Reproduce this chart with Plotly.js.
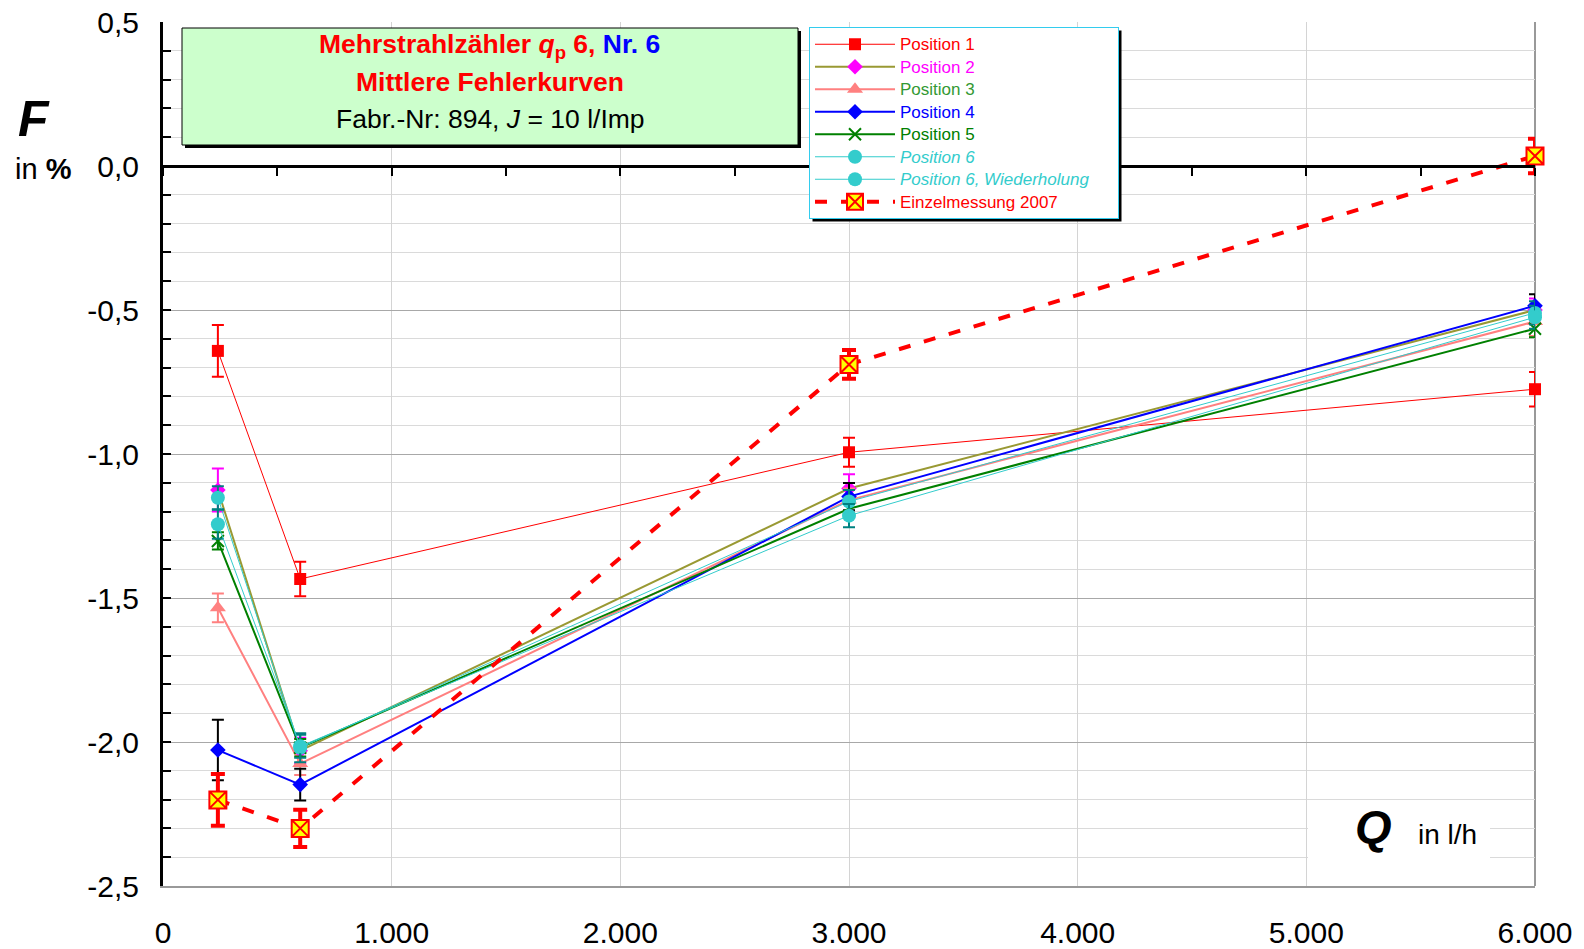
<!DOCTYPE html>
<html>
<head>
<meta charset="utf-8">
<script src="https://cdn.plot.ly/plotly-3.0.1.min.js"></script>
<style>html,body{margin:0;padding:0;background:#fff;}#chart{width:1584px;height:949px;}</style>
</head>
<body>
<div id="chart"></div>
<script>
// ---- data ----
const Q = [240, 600, 3000, 6000];
const pos1 = [-0.642, -1.434, -0.994, -0.775];
const pos1Err = [0.09, 0.06, 0.05, 0.06];
const pos2 = [-1.125, -2.03, -1.12, -0.50];
const pos2Err = [0.075, 0.045, 0.05, 0.04];
const pos3 = [-1.534, -2.075, -1.16, -0.54];
const pos3Err = [0.05, 0.04, 0.04, 0.05];
const pos4 = [-2.028, -2.148, -1.148, -0.485];
const pos4Err = [0.105, 0.055, 0.047, 0.04];
const pos5 = [-1.302, -2.02, -1.19, -0.565];
const pos5Err = [0.03, 0.03, 0.03, 0.03];
const pos6 = [-1.152, -2.02, -1.165, -0.51];
const pos6Err = [0.04, 0.05, 0.04, 0.04];
const pos6w = [-1.244, -2.015, -1.214, -0.525];
const pos6wErr = [0.05, 0.04, 0.04, 0.04];
const einzel = [-2.201, -2.30, -0.689, 0.035];
const einzelErr = [0.09, 0.065, 0.05, 0.06];

const seriesNames = ['Position 1', 'Position 2', 'Position 3', 'Position 4', 'Position 5',
                     'Position 6', 'Position 6, Wiederholung', 'Einzelmessung 2007'];

const xTickVals = [0, 1000, 2000, 3000, 4000, 5000, 6000];
const xTickText = ['0', '1.000', '2.000', '3.000', '4.000', '5.000', '6.000'];
const yTickVals = [-2.5, -2.0, -1.5, -1.0, -0.5, 0.0, 0.5];
const yTickText = ['-2,5', '-2,0', '-1,5', '-1,0', '-0,5', '0,0', '0,5'];

// ---- layout helpers (pixel -> paper) ----
const W = 1584, H = 949;
const M = {l: 163, r: 49, t: 22, b: 63};
const PW = W - M.l - M.r, PH = H - M.t - M.b;
const px = v => (v - M.l) / PW;
const py = v => (H - M.b - v) / PH;
const FONT = 'Liberation Sans, Arial, sans-serif';

function legendName(text, color, italic, pad) {
  let t = italic ? '<i>' + text + '</i>' : text;
  return '<span style="color:' + color + ';font-size:17px">' + t + (pad || '') + '</span>';
}

function series(name, y, color, lineColor, lineWidth, symbol, size, errColor, err, extra) {
  const t = {
    type: 'scatter', mode: 'lines+markers', name: name, x: Q, y: y, cliponaxis: false,
    line: {color: lineColor, width: lineWidth},
    marker: {symbol: symbol, size: size, color: color, line: {width: 0}},
    error_y: {type: 'data', array: err, color: errColor, thickness: 2, width: 6},
    hoverinfo: 'x+y'
  };
  if (extra) extra(t);
  return t;
}

const traces = [
  series(legendName(seriesNames[0], '#ff0000'), pos1, '#ff0000', '#ff0000', 1, 'square', 12, '#ff0000', pos1Err),
  series(legendName(seriesNames[1], '#ff00ff'), pos2, '#ff00ff', '#999933', 2, 'diamond', 12, '#ff00ff', pos2Err),
  series(legendName(seriesNames[2], '#339933'), pos3, '#ff8080', '#ff8080', 2, 'triangle-up', 14, '#ff8080', pos3Err),
  series(legendName(seriesNames[3], '#0000ff'), pos4, '#0000ff', '#0000ff', 2, 'diamond', 12, '#000000', pos4Err),
  series(legendName(seriesNames[4], '#008000'), pos5, '#008000', '#008000', 2, 'x-thin-open', 12, '#008000', pos5Err,
         t => { t.marker.line = {width: 2, color: '#008000'}; }),
  series(legendName(seriesNames[5], '#33cccc', true), pos6, '#33cccc', '#33cccc', 1, 'circle', 14, '#008080', pos6Err),
  series(legendName(seriesNames[6], '#33cccc', true, '&nbsp;&nbsp;&nbsp;&nbsp;&nbsp;'), pos6w, '#33cccc', '#33cccc', 1, 'circle', 14, '#008080', pos6wErr),
  series(legendName(seriesNames[7], '#ff0000'), einzel, '#ffff00', '#ff0000', 4, 'square-x', 17, '#ff0000', einzelErr,
         t => { t.line.dash = '12px,14px'; t.marker.line = {width: 2, color: '#ff0000'}; t.error_y.thickness = 4; t.error_y.width = 7; }),
  {type: 'scatter', x: [null], y: [null], xaxis: 'x2', yaxis: 'y', showlegend: false, hoverinfo: 'skip', mode: 'markers'}
];

const layout = {
  width: W, height: H,
  margin: M,
  paper_bgcolor: '#ffffff', plot_bgcolor: '#ffffff',
  font: {family: FONT, color: '#000000'},
  showlegend: true,
  legend: {
    x: px(809), y: py(27), xanchor: 'left', yanchor: 'top',
    bgcolor: '#ffffff', bordercolor: '#33ccee', borderwidth: 1,
    font: {family: FONT, size: 15, color: '#000000'},
    itemwidth: 80, tracegroupgap: 0
  },
  xaxis: {
    range: [0, 6000], tickmode: 'array', tickvals: xTickVals, ticktext: xTickText,
    showgrid: true, gridcolor: '#d4d4d4', gridwidth: 1, zeroline: false,
    showline: true, linecolor: '#999999', linewidth: 2, ticks: '',
    tickfont: {family: FONT, size: 30, color: '#000000'}, ticklabelstandoff: 19,
    fixedrange: true
  },
  xaxis2: {
    range: [0, 6000], overlaying: 'x', anchor: 'free', position: 0.8333, side: 'bottom',
    tickmode: 'linear', tick0: 0, dtick: 500, ticks: 'outside', ticklen: 8, tickwidth: 2, tickcolor: '#000000',
    showticklabels: false, showgrid: false, zeroline: false,
    showline: true, linecolor: '#000000', linewidth: 3
  },
  yaxis: {
    range: [-2.5, 0.5], tickmode: 'array', tickvals: yTickVals, ticktext: yTickText,
    showgrid: true, gridcolor: '#a8a8a8', gridwidth: 1, zeroline: false,
    showline: true, linecolor: '#000000', linewidth: 3,
    ticks: 'inside', ticklen: 8, tickwidth: 2, tickcolor: '#000000',
    minor: {tickmode: 'linear', tick0: -2.5, dtick: 0.1, ticks: 'inside', ticklen: 8, tickwidth: 2, tickcolor: '#000000',
            showgrid: true, gridcolor: '#dadada', gridwidth: 1},
    tickfont: {family: FONT, size: 30, color: '#000000'}, ticklabelstandoff: 15,
    fixedrange: true
  },
  shapes: [
    // right border
    {type: 'line', xref: 'paper', yref: 'paper', x0: 1, x1: 1, y0: 0, y1: 1, line: {color: '#999999', width: 2}, layer: 'below'},
    // Q label white background
    {type: 'rect', xref: 'paper', yref: 'paper', x0: px(1308), x1: px(1490), y0: py(866), y1: py(800),
     fillcolor: '#ffffff', line: {width: 0}, layer: 'above'},
    // title box shadow + box
    {type: 'rect', xref: 'paper', yref: 'paper', x0: px(185), x1: px(801), y0: py(148), y1: py(31),
     fillcolor: '#000000', line: {width: 0}, layer: 'above'},
    {type: 'rect', xref: 'paper', yref: 'paper', x0: px(182), x1: px(798), y0: py(145), y1: py(28),
     fillcolor: '#ccffcc', line: {color: '#000000', width: 1}, layer: 'above'},
    // legend shadow (resized to the legend after drawing)
    {type: 'rect', xref: 'paper', yref: 'paper', x0: px(812), x1: px(1117), y0: py(215), y1: py(32),
     fillcolor: '#000000', line: {width: 0}, layer: 'above'}
  ],
  annotations: [
    {xref: 'paper', yref: 'paper', x: px(489), y: py(46), xanchor: 'center', yanchor: 'middle', showarrow: false,
     text: '<b>Mehrstrahlzähler <i>q</i><sub>p</sub> 6, <span style="color:#0000ff">Nr. 6</span></b>',
     font: {family: FONT, size: 26.5, color: '#ff0000'}},
    {xref: 'paper', yref: 'paper', x: px(490), y: py(82), xanchor: 'center', yanchor: 'middle', showarrow: false,
     text: '<b>Mittlere Fehlerkurven</b>', font: {family: FONT, size: 26.5, color: '#ff0000'}},
    {xref: 'paper', yref: 'paper', x: px(490), y: py(119), xanchor: 'center', yanchor: 'middle', showarrow: false,
     text: 'Fabr.-Nr: 894, <i>J</i> = 10 l/Imp', font: {family: FONT, size: 26.5, color: '#000000'}},
    {xref: 'paper', yref: 'paper', x: px(34), y: py(119), xanchor: 'center', yanchor: 'middle', showarrow: false,
     text: '<b><i>F</i></b>', font: {family: FONT, size: 50, color: '#000000'}},
    {xref: 'paper', yref: 'paper', x: px(43), y: py(169), xanchor: 'center', yanchor: 'middle', showarrow: false,
     text: 'in <b>%</b>', font: {family: FONT, size: 29, color: '#000000'}},
    {xref: 'paper', yref: 'paper', x: px(1373), y: py(826), xanchor: 'center', yanchor: 'middle', showarrow: false,
     text: '<b><i>Q</i></b>', font: {family: FONT, size: 47, color: '#000000'}},
    {xref: 'paper', yref: 'paper', x: px(1447), y: py(834), xanchor: 'center', yanchor: 'middle', showarrow: false,
     text: 'in l/h', font: {family: FONT, size: 28, color: '#000000'}}
  ]
};

const gd = document.getElementById('chart');
Plotly.newPlot(gd, traces, layout, {displayModeBar: false, staticPlot: true}).then(() => {
  const bg = gd.querySelector('.legend rect.bg');
  if (!bg) return;
  const r = bg.getBoundingClientRect();
  const c = gd.getBoundingClientRect();
  const left = r.left - c.left, top = r.top - c.top, right = r.right - c.left, bottom = r.bottom - c.top;
  const shapes = layout.shapes.slice();
  shapes[4] = Object.assign({}, shapes[4], {x0: px(left + 3), x1: px(right + 3), y0: py(bottom + 3), y1: py(top + 3)});
  return Plotly.relayout(gd, {shapes: shapes});
});
</script>
</body>
</html>
